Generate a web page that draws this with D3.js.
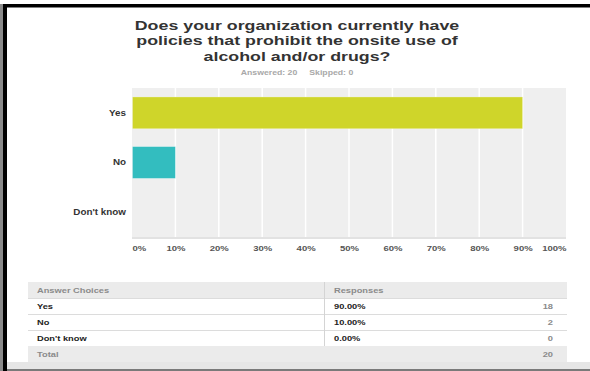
<!DOCTYPE html>
<html>
<head>
<meta charset="utf-8">
<script src="https://cdn.jsdelivr.net/npm/d3@7"></script>
<style>
  html, body { margin: 0; padding: 0; background: #fff; }
  svg { display: block; font-family: "Liberation Sans", Arial, sans-serif; }
</style>
</head>
<body>
<svg id="chart" width="590" height="371"></svg>
<script>
// Survey question and answer data
const titleLines = ["Does your organization currently have", "policies that prohibit the onsite use of", "alcohol and/or drugs?"];
const summaryText = "Answered: 20     Skipped: 0";
const categories = ["Yes", "No", "Don't know"];
const percents = [90, 10, 0];
const counts = [18, 2, 0];
const totalCount = 20;
const barColors = ["#cfd52a", "#33bdbf", "#f2a93b"];
const tickValues = [0, 10, 20, 30, 40, 50, 60, 70, 80, 90, 100];

const svg = d3.select("#chart");
const W = 590, H = 371;
const WIDE = 1.16; // horizontal stretch applied to the typeface

// Page frame
svg.append("rect").attr("x", 0).attr("y", 0).attr("width", W).attr("height", H).attr("fill", "#fff");
svg.append("rect").attr("x", 3).attr("y", 4).attr("width", W - 3).attr("height", 3.5).attr("fill", "#000");
svg.append("rect").attr("x", 3).attr("y", 4).attr("width", 4).attr("height", H - 4).attr("fill", "#000");
svg.append("rect").attr("x", 0).attr("y", 4).attr("width", 3).attr("height", H - 4).attr("fill", "#8a8a8a");
svg.append("rect").attr("x", 7).attr("y", 362).attr("width", W - 7).attr("height", 7).attr("fill", "#e6e6e6");
svg.append("rect").attr("x", 7).attr("y", 369).attr("width", W - 7).attr("height", 2).attr("fill", "#7a7a7a");

// Title
titleLines.forEach((line, i) => {
  svg.append("text")
    .attr("transform", `translate(297,${29.5 + i * 15.5}) scale(1.33,1)`)
    .attr("text-anchor", "middle")
    .attr("font-size", 13.4).attr("font-weight", "bold").attr("fill", "#333")
    .text(line);
});

svg.append("text")
  .attr("transform", `translate(297,74.5) scale(${WIDE},1)`)
  .attr("text-anchor", "middle")
  .attr("font-size", 7.5).attr("font-weight", "bold").attr("fill", "#a8a8a8")
  .attr("xml:space", "preserve")
  .style("white-space", "pre")
  .text(summaryText);

// Plot area
const plot = { left: 132, right: 566, top: 88, bottom: 237 };
const x = d3.scaleLinear().domain([0, 100]).range([plot.left, plot.right]);
const y = d3.scaleBand().domain(categories).range([plot.top, plot.bottom]).paddingInner(0.36).paddingOuter(0.18);

svg.append("rect")
  .attr("x", plot.left).attr("y", plot.top)
  .attr("width", plot.right - plot.left).attr("height", plot.bottom - plot.top)
  .attr("fill", "#efefef");

// vertical gridlines
svg.append("g").selectAll("line").data(tickValues.slice(1, -1)).join("line")
  .attr("x1", d => x(d)).attr("x2", d => x(d))
  .attr("y1", plot.top).attr("y2", plot.bottom)
  .attr("stroke", "#fff").attr("stroke-width", 1.5);

// baseline band
svg.append("rect")
  .attr("x", plot.left).attr("y", plot.bottom)
  .attr("width", plot.right - plot.left).attr("height", 2)
  .attr("fill", "#e2e2e2");

// bars
svg.append("g").selectAll("rect").data(categories).join("rect")
  .attr("x", x(0) + 0.5)
  .attr("y", d => y(d))
  .attr("width", (d, i) => Math.max(0, x(percents[i]) - x(0) - 0.5))
  .attr("height", y.bandwidth())
  .attr("fill", (d, i) => barColors[i])
  .attr("stroke", (d, i) => percents[i] > 0 ? "#ffffff" : "none")
  .attr("stroke-opacity", 0.35)
  .attr("stroke-width", 0.8);

// category labels
const yAxis = d3.axisLeft(y).tickSize(0).tickPadding(6);
const gy = svg.append("g").attr("transform", `translate(${plot.left},0)`).call(yAxis);
gy.select(".domain").remove();
gy.selectAll("text")
  .attr("font-family", "Liberation Sans, Arial, sans-serif")
  .attr("font-size", 8.5).attr("font-weight", "bold").attr("fill", "#333")
  .attr("x", -6 / WIDE)
  .attr("transform", `scale(${WIDE},1)`);

// percentage axis
const xAxis = d3.axisBottom(x).tickValues(tickValues).tickSize(0).tickPadding(8).tickFormat(d => d + "%");
const gx = svg.append("g").attr("transform", `translate(0,${plot.bottom})`).call(xAxis);
gx.select(".domain").remove();
gx.selectAll("text")
  .attr("font-family", "Liberation Sans, Arial, sans-serif")
  .attr("font-size", 8).attr("font-weight", "bold").attr("fill", "#555")
  .attr("transform", `scale(${WIDE + 0.03},1)`)
  .attr("text-anchor", d => d === 0 ? "start" : d === 100 ? "end" : "middle");

// Response table
const table = { left: 28, right: 567, divider: 324.5, top: 282, rowH: 16 };
const rows = categories.map((c, i) => ({ label: c, pct: percents[i].toFixed(2) + "%", n: counts[i] }));
const tg = svg.append("g");

// header and total rows
tg.append("rect").attr("x", table.left).attr("y", table.top)
  .attr("width", table.right - table.left).attr("height", table.rowH).attr("fill", "#ebebeb");
const totalY = table.top + table.rowH * (rows.length + 1);
tg.append("rect").attr("x", table.left).attr("y", totalY)
  .attr("width", table.right - table.left).attr("height", table.rowH).attr("fill", "#ebebeb");

// row separators
tg.selectAll("line.sep").data(d3.range(1, rows.length + 1)).join("line")
  .attr("class", "sep")
  .attr("x1", table.left).attr("x2", table.right)
  .attr("y1", d => table.top + d * table.rowH + 0.5).attr("y2", d => table.top + d * table.rowH + 0.5)
  .attr("stroke", "#dcdcdc").attr("stroke-width", 1);

// column divider
tg.append("line")
  .attr("x1", table.divider).attr("x2", table.divider)
  .attr("y1", table.top).attr("y2", totalY)
  .attr("stroke", "#d4d4d4").attr("stroke-width", 1);

const textY = i => table.top + i * table.rowH + 10.5;
const cell = (xPos, yPos, txt, color, anchor) => tg.append("text")
  .attr("transform", `translate(${xPos},${yPos}) scale(${WIDE},1)`)
  .attr("text-anchor", anchor || "start")
  .attr("font-size", 8).attr("font-weight", "bold").attr("fill", color)
  .text(txt);

cell(37, textY(0), "Answer Choices", "#8a8a8a");
cell(334, textY(0), "Responses", "#8a8a8a");
rows.forEach((r, i) => {
  cell(37, textY(i + 1), r.label, "#222");
  cell(334, textY(i + 1), r.pct, "#222");
  cell(553, textY(i + 1), r.n, "#8a8a8a", "end");
});
cell(37, textY(rows.length + 1), "Total", "#8a8a8a");
cell(553, textY(rows.length + 1), totalCount, "#8a8a8a", "end");
</script>
</body>
</html>
